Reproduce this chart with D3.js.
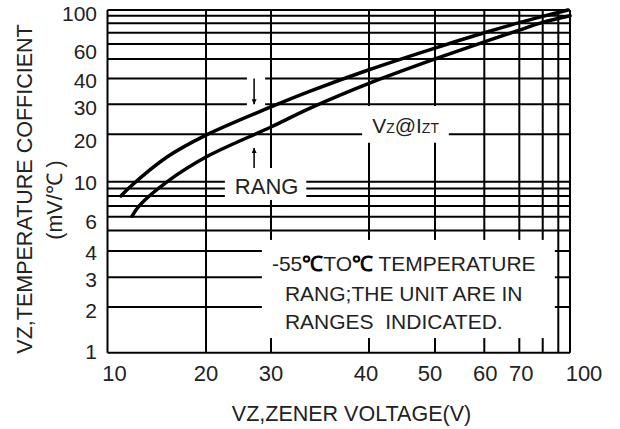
<!DOCTYPE html>
<html>
<head>
<meta charset="utf-8">
<script src="https://cdn.jsdelivr.net/npm/d3@7"></script>
<style>
  body { margin: 0; background: #fff; }
  svg { display: block; }
  text { font-family: "Liberation Sans", Arial, sans-serif; fill: #222; }
</style>
</head>
<body>
<div id="chart"></div>
<script>
// grid values (the printed scale is not a true log scale, so it is piecewise)
const xGrid = [10, 20, 30, 40, 50, 60, 70, 80, 90, 100];
const xGridFrac = [0, .213, .3535, .5654, .7081, .8147, .8904, .941, .9747, 1];
const xTickLabels = ['10', '20', '30', '40', '50', '60', '70', '', '', '100'];
const xLabelNudge = [7, 0, 0, -3, -5, 1, 2, 0, 0, 14];

const yGrid = [1, 2, 3, 4, 5, 6, 7, 8, 9, 10, 20, 30, 40, 50, 60, 70, 80, 90, 100];
const yGridFrac = [0, .1334, .22, .2968, .3566, .3968, .4284, .4573, .4791, .4987,
                   .6376, .7251, .8001, .857, .9008, .9338, .9612, .9834, 1];
const yTickValues = [100, 60, 40, 30, 20, 10, 6, 4, 3, 2, 1];
const yLabelNudge = [3, 8, 2, 3, 6, 1, 5, 2, 2, 4, -1];

// curves: Vz (V) -> temperature coefficient (mV/C)
const upperVz = [11.37, 12.28, 16.04, 20, 30, 34, 40, 50, 60, 70, 80, 98.3];
const upperTc = [8.0, 9.22, 15.2, 19.8, 29.1, 35.1, 44.5, 57.3, 69.9, 80.9, 89.1, 100];
const lowerVz = [12.49, 13.3, 16.04, 20, 30, 34, 40, 50, 60, 70, 80, 100];
const lowerTc = [6.05, 7.1, 10, 15.2, 22.4, 28.7, 38.1, 50, 61.9, 72.8, 81.2, 90];

const width = 620, height = 429;
const pLeft = 107.5, pRight = 570, pTop = 10, pBottom = 352.7;

const x = d3.scaleLinear()
    .domain(xGrid)
    .range(xGridFrac.map(f => pLeft + f * (pRight - pLeft)));
const y = d3.scaleLinear()
    .domain(yGrid)
    .range(yGridFrac.map(f => pBottom - f * (pBottom - pTop)));

const svg = d3.select('#chart').append('svg')
    .attr('width', width)
    .attr('height', height);

// grid
svg.append('g').selectAll('line').data(xGrid).join('line')
    .attr('x1', d => x(d)).attr('x2', d => x(d))
    .attr('y1', pTop).attr('y2', pBottom)
    .attr('stroke', '#000').attr('stroke-width', 2);
svg.append('g').selectAll('line').data(yGrid).join('line')
    .attr('x1', pLeft).attr('x2', pRight)
    .attr('y1', d => y(d)).attr('y2', d => y(d))
    .attr('stroke', '#000').attr('stroke-width', 2);

// white boxes that break the grid behind the annotations (data units)
const masks = [
    { name: 'rang',  x0: 22.9, x1: 33.6, y0: 12.9, y1: 7.6 },
    { name: 'vz',    x0: 39.3, x1: 52.8, y0: 29.4, y1: 18.2 },
    { name: 'note',  x0: 28.6, x1: 87.8, y0: 4.54, y1: 1.32 },
    { name: 'arrow', x0: 26.3, x1: 29.1, y0: 43.3, y1: 28.1 }
];
svg.append('g').selectAll('rect').data(masks).join('rect')
    .attr('x', d => x(d.x0))
    .attr('y', d => y(d.y0))
    .attr('width', d => x(d.x1) - x(d.x0))
    .attr('height', d => y(d.y1) - y(d.y0))
    .attr('fill', '#fff');
const box = name => {
    const m = masks.find(d => d.name === name);
    return { x: x(m.x0), y: y(m.y0), x2: x(m.x1), y2: y(m.y1) };
};

// arrows
const defs = svg.append('defs');
defs.append('marker')
    .attr('id', 'head')
    .attr('viewBox', '0 0 10 10')
    .attr('refX', 10).attr('refY', 5)
    .attr('markerWidth', 8).attr('markerHeight', 5)
    .attr('markerUnits', 'userSpaceOnUse')
    .attr('orient', 'auto')
    .append('path').attr('d', 'M0,0L10,5L0,10Z').attr('fill', '#000');
const arrowX = 27.4;
const arrows = [
    { from: 40, to: 30 },
    { from: 12.9, to: 17.1 }
];
svg.append('g').selectAll('line').data(arrows).join('line')
    .attr('x1', x(arrowX)).attr('x2', x(arrowX))
    .attr('y1', d => y(d.from)).attr('y2', d => y(d.to))
    .attr('stroke', '#000').attr('stroke-width', 1.5)
    .attr('marker-end', 'url(#head)');

// curves
const line = d3.line()
    .x(d => x(d[0]))
    .y(d => y(d[1]))
    .curve(d3.curveCatmullRom.alpha(0.5));
const curves = [
    d3.zip(upperVz, upperTc),
    d3.zip(lowerVz, lowerTc)
];
svg.append('g').selectAll('path').data(curves).join('path')
    .attr('d', line)
    .attr('fill', 'none')
    .attr('stroke', '#000')
    .attr('stroke-width', 3.5)
    .attr('stroke-linecap', 'round');

// tick labels
svg.append('g').selectAll('text').data(xGrid).join('text')
    .attr('x', (d, i) => x(d) + xLabelNudge[i])
    .attr('y', 381)
    .attr('text-anchor', 'middle')
    .style('font-size', '22px')
    .text((d, i) => xTickLabels[i]);
svg.append('g').selectAll('text').data(yTickValues).join('text')
    .attr('x', 97)
    .attr('y', (d, i) => y(d) + yLabelNudge[i] + 7.5)
    .attr('text-anchor', 'end')
    .style('font-size', '21px')
    .text(d => d);

// axis titles
svg.append('text')
    .attr('x', 351.5).attr('y', 421)
    .attr('text-anchor', 'middle')
    .style('font-size', '21.5px')
    .text('VZ,ZENER VOLTAGE(V)');
svg.append('text')
    .attr('transform', 'translate(32,189) rotate(-90)')
    .attr('text-anchor', 'middle')
    .style('font-size', '21.5px')
    .text('VZ,TEMPERATURE COFFICIENT');
svg.append('text')
    .attr('transform', 'translate(62,200) rotate(-90)')
    .attr('text-anchor', 'middle')
    .style('font-size', '21.5px')
    .text('(mV/\u2103 )');

// annotations
const rb = box('rang');
svg.append('text')
    .attr('x', rb.x + 10).attr('y', rb.y2 - 6)
    .style('font-size', '22px')
    .text('RANG');

const vb = box('vz');
const vz = svg.append('text')
    .attr('x', vb.x + 10).attr('y', vb.y2 - 10)
    .style('font-size', '21px');
vz.append('tspan').text('V');
vz.append('tspan').style('font-size', '14px').text('Z');
vz.append('tspan').text('@I');
vz.append('tspan').style('font-size', '14px').text('ZT');

const nb = box('note');
const noteLines = [
    { dx: 10, dy: 31 },
    { dx: 23, dy: 61 },
    { dx: 23, dy: 89 }
];
const n1 = svg.append('text')
    .attr('x', nb.x + noteLines[0].dx).attr('y', nb.y + noteLines[0].dy)
    .style('font-size', '21px');
n1.append('tspan').text('-55');
n1.append('tspan').style('fill', '#000').style('font-weight', 'bold').text('\u2103');
n1.append('tspan').text('TO');
n1.append('tspan').style('fill', '#000').style('font-weight', 'bold').text('\u2103');
n1.append('tspan').text(' TEMPERATURE');
svg.append('text')
    .attr('x', nb.x + noteLines[1].dx).attr('y', nb.y + noteLines[1].dy)
    .style('font-size', '21px')
    .text('RANG;THE UNIT ARE IN');
svg.append('text')
    .attr('x', nb.x + noteLines[2].dx).attr('y', nb.y + noteLines[2].dy)
    .style('font-size', '21px')
    .style('white-space', 'pre')
    .text('RANGES  INDICATED.');
</script>
</body>
</html>
